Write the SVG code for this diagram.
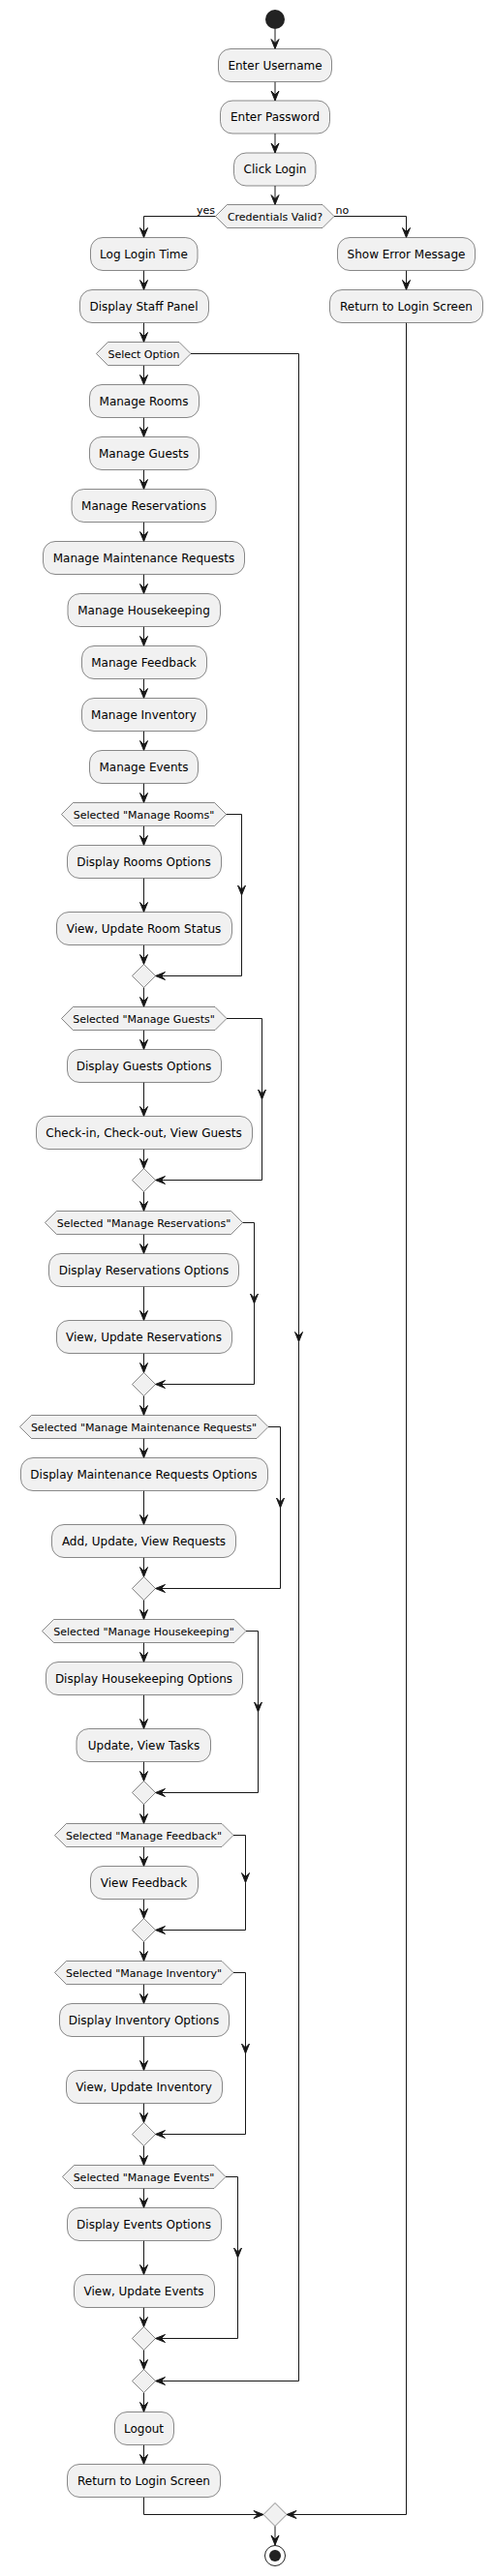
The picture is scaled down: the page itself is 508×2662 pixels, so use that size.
<svg xmlns="http://www.w3.org/2000/svg" width="508" height="2662" viewBox="0 0 508 2662">
<style>
.b{fill:#F1F1F1;stroke:#181818;stroke-width:0.5}
.t{font-family:"DejaVu Sans",sans-serif;font-size:12px;fill:#000;text-anchor:middle}
.h{font-family:"DejaVu Sans",sans-serif;font-size:11px;fill:#000;text-anchor:middle}
.l{font-family:"DejaVu Sans",sans-serif;font-size:11px;fill:#000}
.c path{fill:none;stroke:#181818;stroke-width:1}
.c path.a{marker-end:url(#ar)}
</style>
<defs>
<marker id="ar" markerUnits="userSpaceOnUse" markerWidth="10" markerHeight="8" refX="10" refY="4" orient="auto" overflow="visible">
<path d="M0,0 L10,4 L0,8 L4,4 Z" fill="#181818" stroke="#181818" stroke-width="1"/>
</marker>
</defs>
<rect width="508" height="2662" fill="#FFFFFF"/>

<g class="c" id="connectors">
<path class="a" d="M284,30 V50.5"/>
<path class="a" d="M284,84.5 V104"/>
<path class="a" d="M284,138 V158"/>
<path class="a" d="M284,192 V211.5"/>
<path class="a" d="M222.5,223.5 H148.5 V245.5"/>
<path class="a" d="M345,223.5 H419.5 V245.5"/>
<path class="a" d="M419.5,279.5 V299.5"/>
<path class="a" d="M148.5,279.5 V299.5"/>
<path class="a" d="M148.5,333.5 V353.5"/>
<path class="a" d="M148.5,377.5 V397.5"/>
<path class="a" d="M148.5,431.5 V451.5"/>
<path class="a" d="M148.5,485.5 V505.5"/>
<path class="a" d="M148.5,539.5 V559.5"/>
<path class="a" d="M148.5,593.5 V613.5"/>
<path class="a" d="M148.5,647.5 V667.5"/>
<path class="a" d="M148.5,701.5 V721.5"/>
<path class="a" d="M148.5,755.5 V775.5"/>
<path class="a" d="M148.5,809.5 V829.5"/>
<path class="a" d="M148.5,853.5 V873.5"/>
<path class="a" d="M148.5,907.5 V942.5"/>
<path class="a" d="M148.5,976.5 V996.5"/>
<path class="a" d="M233.5,841.5 H249.5 V925"/>
<path class="a" d="M249.5,925 V1008.5 H160.5"/>
<path class="a" d="M148.5,1020.5 V1040.5"/>
<path class="a" d="M148.5,1064.5 V1084.5"/>
<path class="a" d="M148.5,1118.5 V1153.5"/>
<path class="a" d="M148.5,1187.5 V1207.5"/>
<path class="a" d="M234,1052.5 H270.5 V1136"/>
<path class="a" d="M270.5,1136 V1219.5 H160.5"/>
<path class="a" d="M148.5,1231.5 V1251.5"/>
<path class="a" d="M148.5,1275.5 V1295.5"/>
<path class="a" d="M148.5,1329.5 V1364.5"/>
<path class="a" d="M148.5,1398.5 V1418.5"/>
<path class="a" d="M250.5,1263.5 H262.5 V1347"/>
<path class="a" d="M262.5,1347 V1430.5 H160.5"/>
<path class="a" d="M148.5,1442.5 V1462.5"/>
<path class="a" d="M148.5,1486.5 V1506.5"/>
<path class="a" d="M148.5,1540.5 V1575.5"/>
<path class="a" d="M148.5,1609.5 V1629.5"/>
<path class="a" d="M277,1474.5 H289.5 V1558"/>
<path class="a" d="M289.5,1558 V1641.5 H160.5"/>
<path class="a" d="M148.5,1653.5 V1673.5"/>
<path class="a" d="M148.5,1697.5 V1717.5"/>
<path class="a" d="M148.5,1751.5 V1786.5"/>
<path class="a" d="M148.5,1820.5 V1840.5"/>
<path class="a" d="M254,1685.5 H266.5 V1769"/>
<path class="a" d="M266.5,1769 V1852.5 H160.5"/>
<path class="a" d="M148.5,1864.5 V1884.5"/>
<path class="a" d="M148.5,1908.5 V1928.5"/>
<path class="a" d="M148.5,1962.5 V1982.5"/>
<path class="a" d="M241,1896.5 H253.5 V1945.5"/>
<path class="a" d="M253.5,1945.5 V1994.5 H160.5"/>
<path class="a" d="M148.5,2006.5 V2026.5"/>
<path class="a" d="M148.5,2050.5 V2070.5"/>
<path class="a" d="M148.5,2104.5 V2139.5"/>
<path class="a" d="M148.5,2173.5 V2193.5"/>
<path class="a" d="M241,2038.5 H253.5 V2122"/>
<path class="a" d="M253.5,2122 V2205.5 H160.5"/>
<path class="a" d="M148.5,2217.5 V2237.5"/>
<path class="a" d="M148.5,2261.5 V2281.5"/>
<path class="a" d="M148.5,2315.5 V2350.5"/>
<path class="a" d="M148.5,2384.5 V2404.5"/>
<path class="a" d="M233,2249.5 H245.5 V2333"/>
<path class="a" d="M245.5,2333 V2416.5 H160.5"/>
<path class="a" d="M148.5,2428.5 V2448.5"/>
<path class="a" d="M197,365.5 H308.5 V1386.5"/>
<path class="a" d="M308.5,1386.5 V2460.5 H160.5"/>
<path class="a" d="M148.5,2472.5 V2492.5"/>
<path class="a" d="M148.5,2526.5 V2546.5"/>
<path class="a" d="M148.5,2580.5 V2598.5 H272"/>
<path class="a" d="M419.5,333.5 V2598.5 H296"/>
<path class="a" d="M284,2610.5 V2630"/>
</g>

<g id="start"><circle cx="284" cy="20" r="10" fill="#222222"/></g>

<g id="n1"><rect class="b" x="225.5" y="50.5" width="117" height="34" rx="12.5"/><text class="t" x="284" y="71.8">Enter Username</text></g>
<g id="n2"><rect class="b" x="227.5" y="104" width="113" height="34" rx="12.5"/><text class="t" x="284" y="125.3">Enter Password</text></g>
<g id="n3"><rect class="b" x="241.5" y="158" width="84.5" height="34" rx="12.5"/><text class="t" x="284" y="179.3">Click Login</text></g>
<g id="d1"><polygon class="b" points="222.5,223.5 234.5,211.5 333,211.5 345,223.5 333,235.5 234.5,235.5"/><text class="h" x="284" y="227.5">Credentials Valid?</text><text class="l" x="222" y="220.5" text-anchor="end">yes</text><text class="l" x="346.5" y="220.5">no</text></g>
<g id="n4"><rect class="b" x="93.5" y="245.5" width="110.5" height="34" rx="12.5"/><text class="t" x="148.5" y="266.8">Log Login Time</text></g>
<g id="n5"><rect class="b" x="82.5" y="299.5" width="133" height="34" rx="12.5"/><text class="t" x="148.5" y="320.8">Display Staff Panel</text></g>
<g id="n6"><rect class="b" x="348.5" y="245.5" width="142" height="34" rx="12.5"/><text class="t" x="419.5" y="266.8">Show Error Message</text></g>
<g id="n7"><rect class="b" x="340.5" y="299.5" width="158" height="34" rx="12.5"/><text class="t" x="419.5" y="320.8">Return to Login Screen</text></g>
<g id="d2"><polygon class="b" points="99.5,365.5 111.5,353.5 185,353.5 197,365.5 185,377.5 111.5,377.5"/><text class="h" x="148.5" y="369.5">Select Option</text></g>
<g id="n8"><rect class="b" x="92.5" y="397.5" width="113" height="34" rx="12.5"/><text class="t" x="148.5" y="418.8">Manage Rooms</text></g>
<g id="n9"><rect class="b" x="92.5" y="451.5" width="113" height="34" rx="12.5"/><text class="t" x="148.5" y="472.8">Manage Guests</text></g>
<g id="n10"><rect class="b" x="74" y="505.5" width="149" height="34" rx="12.5"/><text class="t" x="148.5" y="526.8">Manage Reservations</text></g>
<g id="n11"><rect class="b" x="44.5" y="559.5" width="208" height="34" rx="12.5"/><text class="t" x="148.5" y="580.8">Manage Maintenance Requests</text></g>
<g id="n12"><rect class="b" x="70" y="613.5" width="157.5" height="34" rx="12.5"/><text class="t" x="148.5" y="634.8">Manage Housekeeping</text></g>
<g id="n13"><rect class="b" x="84.5" y="667.5" width="129" height="34" rx="12.5"/><text class="t" x="148.5" y="688.8">Manage Feedback</text></g>
<g id="n14"><rect class="b" x="84.5" y="721.5" width="129" height="34" rx="12.5"/><text class="t" x="148.5" y="742.8">Manage Inventory</text></g>
<g id="n15"><rect class="b" x="92.5" y="775.5" width="112" height="34" rx="12.5"/><text class="t" x="148.5" y="796.8">Manage Events</text></g>

<g id="d3"><polygon class="b" points="63.5,841.5 75.5,829.5 221.5,829.5 233.5,841.5 221.5,853.5 75.5,853.5"/><text class="h" x="148.5" y="845.5">Selected "Manage Rooms"</text></g>
<g id="n16"><rect class="b" x="69.5" y="873.5" width="159" height="34" rx="12.5"/><text class="t" x="148.5" y="894.8">Display Rooms Options</text></g>
<g id="n17"><rect class="b" x="58.5" y="942.5" width="181" height="34" rx="12.5"/><text class="t" x="148.5" y="963.8">View, Update Room Status</text></g>
<g id="m1"><polygon class="b" points="148.5,996.5 160.5,1008.5 148.5,1020.5 136.5,1008.5"/></g>

<g id="d4"><polygon class="b" points="63.5,1052.5 75.5,1040.5 222,1040.5 234,1052.5 222,1064.5 75.5,1064.5"/><text class="h" x="148.5" y="1056.5">Selected "Manage Guests"</text></g>
<g id="n18"><rect class="b" x="69.5" y="1084.5" width="159" height="34" rx="12.5"/><text class="t" x="148.5" y="1105.8">Display Guests Options</text></g>
<g id="n19"><rect class="b" x="37.5" y="1153.5" width="223" height="34" rx="12.5"/><text class="t" x="148.5" y="1174.8">Check-in, Check-out, View Guests</text></g>
<g id="m2"><polygon class="b" points="148.5,1207.5 160.5,1219.5 148.5,1231.5 136.5,1219.5"/></g>

<g id="d5"><polygon class="b" points="46.5,1263.5 58.5,1251.5 238.5,1251.5 250.5,1263.5 238.5,1275.5 58.5,1275.5"/><text class="h" x="148.5" y="1267.5">Selected "Manage Reservations"</text></g>
<g id="n20"><rect class="b" x="50.5" y="1295.5" width="196" height="34" rx="12.5"/><text class="t" x="148.5" y="1316.8">Display Reservations Options</text></g>
<g id="n21"><rect class="b" x="58.5" y="1364.5" width="181" height="34" rx="12.5"/><text class="t" x="148.5" y="1385.8">View, Update Reservations</text></g>
<g id="m3"><polygon class="b" points="148.5,1418.5 160.5,1430.5 148.5,1442.5 136.5,1430.5"/></g>

<g id="d6"><polygon class="b" points="20.5,1474.5 32.5,1462.5 265,1462.5 277,1474.5 265,1486.5 32.5,1486.5"/><text class="h" x="148.5" y="1478.5">Selected "Manage Maintenance Requests"</text></g>
<g id="n22"><rect class="b" x="21.5" y="1506.5" width="255" height="34" rx="12.5"/><text class="t" x="148.5" y="1527.8">Display Maintenance Requests Options</text></g>
<g id="n23"><rect class="b" x="53.5" y="1575.5" width="190" height="34" rx="12.5"/><text class="t" x="148.5" y="1596.8">Add, Update, View Requests</text></g>
<g id="m4"><polygon class="b" points="148.5,1629.5 160.5,1641.5 148.5,1653.5 136.5,1641.5"/></g>

<g id="d7"><polygon class="b" points="43.5,1685.5 55.5,1673.5 242,1673.5 254,1685.5 242,1697.5 55.5,1697.5"/><text class="h" x="148.5" y="1689.5">Selected "Manage Housekeeping"</text></g>
<g id="n24"><rect class="b" x="47.5" y="1717.5" width="203" height="34" rx="12.5"/><text class="t" x="148.5" y="1738.8">Display Housekeeping Options</text></g>
<g id="n25"><rect class="b" x="79" y="1786.5" width="138.5" height="34" rx="12.5"/><text class="t" x="148.5" y="1807.8">Update, View Tasks</text></g>
<g id="m5"><polygon class="b" points="148.5,1840.5 160.5,1852.5 148.5,1864.5 136.5,1852.5"/></g>

<g id="d8"><polygon class="b" points="56.5,1896.5 68.5,1884.5 229,1884.5 241,1896.5 229,1908.5 68.5,1908.5"/><text class="h" x="148.5" y="1900.5">Selected "Manage Feedback"</text></g>
<g id="n26"><rect class="b" x="93.5" y="1928.5" width="111" height="34" rx="12.5"/><text class="t" x="148.5" y="1949.8">View Feedback</text></g>
<g id="m6"><polygon class="b" points="148.5,1982.5 160.5,1994.5 148.5,2006.5 136.5,1994.5"/></g>

<g id="d9"><polygon class="b" points="56.5,2038.5 68.5,2026.5 229,2026.5 241,2038.5 229,2050.5 68.5,2050.5"/><text class="h" x="148.5" y="2042.5">Selected "Manage Inventory"</text></g>
<g id="n27"><rect class="b" x="61.5" y="2070.5" width="175" height="34" rx="12.5"/><text class="t" x="148.5" y="2091.8">Display Inventory Options</text></g>
<g id="n28"><rect class="b" x="68.5" y="2139.5" width="161" height="34" rx="12.5"/><text class="t" x="148.5" y="2160.8">View, Update Inventory</text></g>
<g id="m7"><polygon class="b" points="148.5,2193.5 160.5,2205.5 148.5,2217.5 136.5,2205.5"/></g>

<g id="d10"><polygon class="b" points="64.5,2249.5 76.5,2237.5 221,2237.5 233,2249.5 221,2261.5 76.5,2261.5"/><text class="h" x="148.5" y="2253.5">Selected "Manage Events"</text></g>
<g id="n29"><rect class="b" x="69.5" y="2281.5" width="159" height="34" rx="12.5"/><text class="t" x="148.5" y="2302.8">Display Events Options</text></g>
<g id="n30"><rect class="b" x="76.5" y="2350.5" width="145" height="34" rx="12.5"/><text class="t" x="148.5" y="2371.8">View, Update Events</text></g>
<g id="m8"><polygon class="b" points="148.5,2404.5 160.5,2416.5 148.5,2428.5 136.5,2416.5"/></g>
<g id="m9"><polygon class="b" points="148.5,2448.5 160.5,2460.5 148.5,2472.5 136.5,2460.5"/></g>

<g id="n31"><rect class="b" x="118.5" y="2492.5" width="61" height="34" rx="12.5"/><text class="t" x="148.5" y="2513.8">Logout</text></g>
<g id="n32"><rect class="b" x="69.5" y="2546.5" width="158" height="34" rx="12.5"/><text class="t" x="148.5" y="2567.8">Return to Login Screen</text></g>
<g id="m10"><polygon class="b" points="284,2586.5 296,2598.5 284,2610.5 272,2598.5"/></g>
<g id="end"><circle cx="284" cy="2641" r="10.5" fill="none" stroke="#222222" stroke-width="1"/><circle cx="284" cy="2641" r="6" fill="#222222"/></g>
</svg>
